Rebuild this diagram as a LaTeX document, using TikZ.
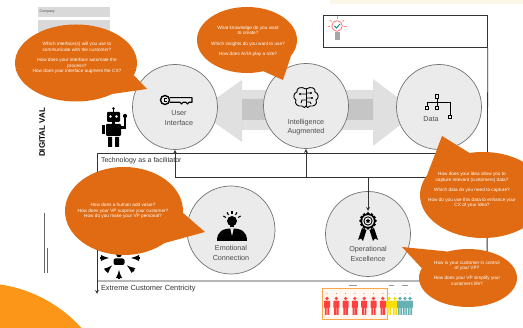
\documentclass[tikz,border=0pt]{standalone}
\usepackage{fontspec}
\setmainfont{Liberation Sans}
\usepackage{tikz}
\usetikzlibrary{positioning, arrows, calc, shapes.geometric}
\definecolor{qorange}{RGB}{224,107,18}
\definecolor{arcorange}{RGB}{252,150,24}
\definecolor{hubgray}{RGB}{235,235,235}
\definecolor{headband}{RGB}{250,246,232}
\tikzset{style={font=\fontsize{7}{8}\selectfont}}

\begin{document}
\begin{tikzpicture}[x=1pt,y=-1pt,>=stealth,
    hub/.style={circle,draw=black!55,fill=hubgray,line width=0.7pt,inner sep=0pt,minimum size=85pt},
    bubble/.style={ellipse,fill=qorange,inner sep=0pt},
    qtext/.style={text=white,align=center,font=\fontsize{4.7}{5.6}\selectfont},
    hubtext/.style={text=black!70,align=center,font=\fontsize{7.2}{9.5}\selectfont},
    frame/.style={draw=black!80,line width=0.8pt},
    band/.style={fill=black,fill opacity=0.12},
    icon/.style={line width=0.9pt,line join=round}]
\useasboundingbox (0,0) rectangle (523,328);
\clip (0,0) rectangle (523,328);

% corner shape and header boxes
\fill[arcorange] (-20,420) circle (137);
\fill[headband] (330,0) rectangle (523,4);
\node[fill=black!15,minimum width=72pt,minimum height=10pt,inner sep=0pt,anchor=north west] (company) at (38,7) {};
\node[anchor=west,inner sep=0pt,text=black!70,font=\fontsize{3.5}{4}\selectfont] (companyL) at (39.5,12) {Company};
\fill[black!15] (38,20) rectangle (110,32);
\node[rotate=90,anchor=west,inner sep=0pt,font=\bfseries\fontsize{8}{9}\selectfont] (dvp) at (42,157) {DIGITAL VAL};
\draw[black!60,line width=0.9pt] (44,213) -- (44,273);
\draw[black!60,line width=0.6pt] (47,248) -- (47,273);

% double arrow behind the hubs
\fill[band] (373,90) -- (242,90) -- (242,80) -- (198,111) -- (242,142) -- (242,120) -- (373,120) -- cycle;
\fill[band] (242,99) -- (373,99) -- (373,79) -- (417,112) -- (373,146) -- (373,130) -- (242,130) -- cycle;

% hubs
\node[hub] (ui) at (175,107) {};
\node[hub] (ia) at (306,106) {};
\node[hub] (data) at (439,107) {};
\node[hub,minimum size=88pt] (ec) at (231,230) {};
\node[hub] (oe) at (368,234) {};

\node[hubtext] (uiL) at (179,118) {User\\Interface};
\node[hubtext] (iaL) at (306,127) {Intelligence\\Augmented};
\node[hubtext] (dataL) at (431,119) {Data};
\node[hubtext] (ecL) at (231,253) {Emotional\\Connection};
\node[hubtext] (oeL) at (368,254) {Operational\\Excellence};

% key
\draw[line width=1.4pt] (165,100) circle (4.5);
\draw[line width=1pt] (166.5,98.4) -- (164.6,98.4) -- (164.6,101.6) -- (166.5,101.6);
\draw[icon,line width=1.1pt] (169.5,97.7) -- (192,97.7) -- (192,102.3) -- (189,102.3) -- (187.5,104) -- (186,102.3)
  -- (183,102.3) -- (181.5,104) -- (180,102.3) -- (169.5,102.3);

% brain
\draw[icon] (306,89) .. controls (301,86) and (296,88) .. (297,92) .. controls (293,93) and (293,99) .. (296,100)
  .. controls (294,104) and (298,107) .. (302,106) .. controls (303,108) and (306,108) .. (306,106);
\draw[icon] (306,89) .. controls (311,86) and (316,88) .. (315,92) .. controls (319,93) and (319,99) .. (316,100)
  .. controls (318,104) and (314,107) .. (310,106) .. controls (309,108) and (306,108) .. (306,106);
\draw[icon] (306,89) -- (306,106);
\draw[icon] (306,94) -- (300,94) (306,100) -- (302,100) -- (301,103) (306,93) -- (311,93) (306,98) -- (312,98) (306,102) -- (310,102) -- (311,104);
\fill (300,94) circle (1.1) (311,93) circle (1.1) (312,98) circle (1.1);

% org chart
\foreach \p in {(437,96.5),(427,108),(437,108),(450,117)}
  \draw[line width=0.8pt] \p ++(-1.8,-1.8) rectangle ++(3.6,3.6);
\draw[line width=0.8pt] (437,98.3) -- (437,102) (427,102) -- (450,102) (427,102) -- (427,106.2)
  (437,102) -- (437,106.2) (450,102) -- (450,115.2);

% person with bulb
\foreach \a in {30,60,90,120,150}
  \draw[line width=1.1pt] ($(232,221)+(\a:7pt)$) -- ($(232,221)+(\a:10pt)$);
\fill (232,221) circle (5);
\fill (230,224) rectangle (234,227.5);
\fill (217,241) .. controls (217,231) and (223,228.5) .. (232,228.5) .. controls (241,228.5) and (247,231) .. (247,241) -- cycle;
\fill[hubgray] (230.3,228.5) -- (233.7,228.5) -- (232,236) -- cycle;

% medal
\fill (362,228) -- (358,240) -- (361,238.5) -- (363,241) -- (366.5,230) -- cycle;
\fill (374,228) -- (378,240) -- (375,238.5) -- (373,241) -- (369.5,230) -- cycle;
\foreach \a in {0,30,...,330}
  \fill ($(368,221)+(\a:7.3pt)$) circle (1.7);
\fill (368,221) circle (7.5);
\fill[hubgray] (368,221) circle (5.8);
\fill (368,221) circle (4.6);
\fill[hubgray] (368,221) circle (3.5);
\node[star,star points=5,fill=black,inner sep=0pt,minimum size=4.5pt] (oeStar) at (368,221) {};

% robot
\fill (113.5,108.5) circle (1.3);
\draw[line width=0.8pt] (113.5,108.5) -- (113.5,112);
\fill[rounded corners=1pt] (107,112) rectangle (120,122);
\fill[white] (110.5,116.5) circle (1.4) (116.5,116.5) circle (1.4);
\fill (112,122) rectangle (115,124);
\fill[rounded corners=1pt] (106,124) rectangle (121,136);
\fill (102,125) rectangle (105,134);
\draw[line width=2.6pt] (121,127.5) -- (125,127.5) -- (125,118);
\fill (125,116) circle (2.1);
\fill (108,137) rectangle (112,147) (115,137) rectangle (119,147);

% customer in the middle
\fill (119,254.5) circle (2.8);
\fill[rounded corners=2pt] (113.5,265) rectangle (124.5,258.5);
\draw[line width=1.8pt,-latex] (100,258) -- (109,258);
\draw[line width=1.8pt,-latex] (140,258) -- (131,258);
\draw[line width=1.8pt,-latex] (106,271) -- (112,265.5);
\draw[line width=1.8pt,-latex] (134,271) -- (127,265.5);
\draw[line width=1.8pt,-latex] (119,279) -- (119,270);

% bulb
\draw[red!55,line width=0.8pt] (337,26) circle (5.3);
\foreach \a in {0,40,90,140,180}
  \draw[red!45,line width=0.8pt] ($(337,26)+(\a:7pt)$) -- ($(337,26)+(\a:9.5pt)$);
\draw[teal,line width=0.8pt] (334.5,26) -- (336.5,28) -- (340,24);
\fill[black!35] (334.5,32) rectangle (339.5,40);

% team row
\draw[orange!70,line width=1pt,fill=orange!6] (322,289) rectangle (387,320);
\foreach \x/\c in {327/red!75,336.3/red!75,345.6/red!75,354.9/red!75,364.2/red!75,373.5/red!75,382.8/red!75,
    389/yellow!80!orange,395/yellow!80!orange,400/teal!60,405/teal!60,410/teal!60} {
  \fill[\c] (\x,298.5) circle (1.8);
  \fill[\c,rounded corners=0.8pt] (\x-3,308) rectangle (\x+3,300.7);
  \fill[\c] (\x-2.2,307) rectangle (\x-0.3,315) (\x+0.3,307) rectangle (\x+2.2,315);
  \fill[black!45] (\x,293.5) circle (0.5);
}
\draw[black!40,line width=0.6pt] (349,285) -- (357,285) (389,285) -- (394,285) (402,285) -- (408,285);

% frame and links
\node[draw=black!80,line width=0.8pt,minimum width=164pt,minimum height=32pt,inner sep=0pt,anchor=north west] (ideabox) at (323,15) {};
\coordinate (tl) at (97,153);
\coordinate (bl) at (97,281);
\coordinate (br) at (487,281);
\coordinate (down) at (97,294);
\coordinate (busy) at (0,177);
\coordinate (medaltop) at (368,211);
\draw[frame] (ideabox.south east) -- (br) -- (bl);
\draw[frame] (tl) -- (tl -| br);
\draw[frame,->] (tl) -- (down);
\draw[frame] (ui.south |- busy) -- (data.south |- busy);
\foreach \h in {ui,ia,data}
  \draw[frame,->] (\h.south |- busy) -- (\h.south);
\draw[frame,->] (oe.north |- busy) -- (medaltop);
\node[below right=0.5pt and 0.5pt of tl,text=black!80] (tech) {Technology as a facilitator};
\node[below right=0.5pt and 0.5pt of bl,text=black!80,font=\fontsize{7.4}{8}\selectfont] (ecc) {Extreme Customer Centricity};

% question bubbles
\coordinate (tipUI) at (147,89);
\coordinate (tipIA) at (283,80);
\coordinate (tipData) at (442,136);
\coordinate (tipEC) at (205,232);
\coordinate (tipOE) at (402,247);
\node[bubble,minimum width=122pt,minimum height=77pt] (qUI) at (76,63) {};
\fill[qorange] (qUI.-12) -- (tipUI) -- (qUI.-40) -- cycle;
\node[bubble,minimum width=100pt,minimum height=66pt] (qIA) at (247,40) {};
\fill[qorange] (qIA.-20) -- (tipIA) -- (qIA.-62) -- cycle;
\node[bubble,minimum width=126pt,minimum height=86pt] (qData) at (483,195) {};
\fill[qorange] (qData.160) -- (tipData) -- (qData.108) -- cycle;
\node[bubble,minimum width=118pt,minimum height=88pt] (qEC) at (124,211) {};
\fill[qorange] (qEC.-2) -- (tipEC) -- (qEC.-38) -- cycle;
\node[bubble,minimum width=98pt,minimum height=58pt] (qOE) at (468,278) {};
\fill[qorange] (qOE.128) -- (tipOE) -- (qOE.168) -- cycle;

\node[qtext] (qUIt) at (77,58) {Which interface(s) will you use to\\communicate with the customer?\\[5pt]How does your interface automate the\\process?\\How does your interface augment the CX?};
\node[qtext] (qIAt) at (248,41) {What knowledge do you want\\to create?\\[4.5pt]Which insights do you want to use?\\[4.5pt]How does AI/IA play a role?};
\node[qtext] (qDatat) at (472,190) {How does your idea allow you to\\capture relevant (customers) data?\\[4.5pt]Which data do you need to capture?\\[4.5pt]How do you use this data to enhance your\\CX of your idea?};
\node[qtext] (qECt) at (123,211) {How does a human add value?\\How does your VP surprise your customer?\\How do you make your VP personal?};
\node[qtext] (qOEt) at (467,273) {How is your customer in control\\of your VP?\\[4.5pt]How does your VP simplify your\\customers life?};
\end{tikzpicture}
\end{document}
